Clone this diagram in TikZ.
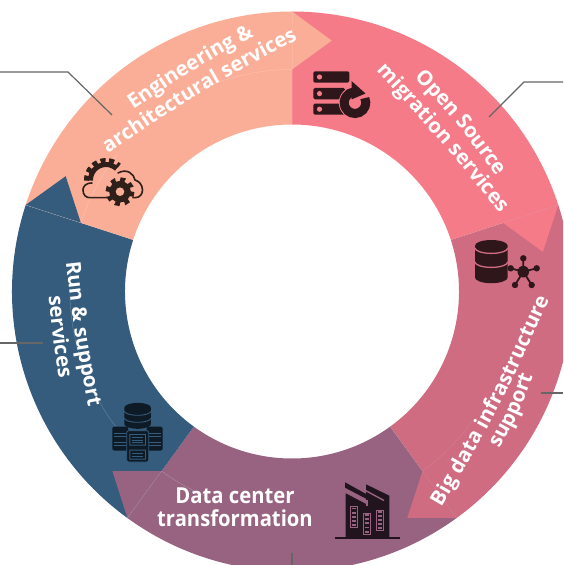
\documentclass[tikz,border=0pt]{standalone}
\usepackage{fontspec}
\usetikzlibrary{calc,decorations.text}
\newfontfamily\labfam{Open Sans}[FakeStretch=0.92]
\newfontfamily\ringfam{Open Sans}
\newcommand{\ringfont}{\color{white}\ringfam\bfseries\fontsize{20.5}{24}\selectfont}
\definecolor{cSalmon}{HTML}{FBAE97}
\definecolor{cPink}{HTML}{F47B87}
\definecolor{cRose}{HTML}{CF6C82}
\definecolor{cPurple}{HTML}{986380}
\definecolor{cBlue}{HTML}{355C7D}
\definecolor{cLeader}{HTML}{666666}
\definecolor{iconA}{HTML}{2E1F1A}
\definecolor{iconB}{HTML}{2E161B}
\definecolor{iconC}{HTML}{0E1A25}
\definecolor{iconD}{HTML}{21141F}
\tikzset{
  px/.style={shift={(-292,291.5)},yscale=-1},
  leader/.style={draw=cLeader,line width=1.2pt},
  seam/.style={draw=white,draw opacity=.11,line width=.4pt},
  biglabel/.style={text=white,font=\labfam\bfseries\fontsize{22}{23}\selectfont,align=center,inner sep=0pt}
}
\newcommand{\segment}[2]{%
  \fill[#2] (#1:280) arc[start angle=#1,delta angle=-72,radius=280]
    -- ({#1-72}:167) arc[start angle={#1-72},delta angle=72,radius=167] -- cycle;}
\newcommand{\head}[2]{%
  \fill[#2] (#1:280) -- ({#1-9}:254) -- (#1:222) -- cycle;}
\newcommand{\arctext}[4]{%
  \path[decorate,decoration={text along path,text align=center,text={|\ringfont|#4}}]
    ($(#1)!-0.15!(#3)$) .. controls ($1.3333*(#2)-0.1667*(#1)-0.1667*(#3)$) .. ($(#3)!-0.15!(#1)$);}
\begin{document}
\begin{tikzpicture}[x=1pt,y=1pt]
\useasboundingbox (-292,-273.5) rectangle (271,291.5);
\clip (-292,-273.5) rectangle (271,291.5);
% ring
\segment{90}{cPink}
\segment{18}{cRose}
\segment{-54}{cPurple}
\segment{-126}{cBlue}
\segment{162}{cSalmon}
\head{90}{cSalmon}
\head{18}{cPink}
\head{-54}{cRose}
\head{-126}{cPurple}
\head{162}{cBlue}
% faint seams
\foreach \a in {162,-126} {\draw[seam,draw opacity=.25] (\a:280) -- (\a:222);}
\foreach \a in {18,-54,90} {\draw[seam] (\a:280) -- (\a:167);}
\draw[seam,draw opacity=.25] (172:222) arc[start angle=172,delta angle=54,radius=222];
\draw[seam,draw opacity=.25] (90:222) arc[start angle=90,delta angle=25,radius=222];
\draw[seam,draw opacity=.25] (142:222) arc[start angle=142,delta angle=20,radius=222];
\draw[seam,draw opacity=.25] (-126:222) arc[start angle=-126,delta angle=14,radius=222];
\draw[seam] (-54:222) arc[start angle=-54,delta angle=18,radius=222];
\begin{scope}[px]
% leader ends
\coordinate (l1a) at (0,72);   \coordinate (l1b) at (68,72);  \coordinate (l1c) at (112,115);
\coordinate (l2a) at (563,82); \coordinate (l2b) at (524,82); \coordinate (l2c) at (489,117);
\coordinate (l3a) at (0,343);  \coordinate (l3b) at (43,343);
\coordinate (l4a) at (563,393);\coordinate (l4b) at (541,393);
\coordinate (l5a) at (292,565);\coordinate (l5b) at (292,553);
% text baselines
\coordinate (e1a) at (132,112); \coordinate (e1m) at (197,68);  \coordinate (e1b) at (257,36);
\coordinate (e2a) at (111,153); \coordinate (e2m) at (201,93);  \coordinate (e2b) at (296,42);
\coordinate (o1a) at (417,82);  \coordinate (o1m) at (456,123); \coordinate (o1b) at (493,173);
\coordinate (o2a) at (378,74);  \coordinate (o2m) at (439,140); \coordinate (o2b) at (497,211);
\coordinate (r1a) at (67,263);  \coordinate (r1m) at (75,334);  \coordinate (r1b) at (89,406);
\coordinate (r2a) at (49,298);  \coordinate (r2m) at (53,338);  \coordinate (r2b) at (59,377);
\coordinate (b1a) at (443,501); \coordinate (b1m) at (499,406); \coordinate (b1b) at (545,304);
\coordinate (b2a) at (500,446); \coordinate (b2m) at (518,414); \coordinate (b2b) at (531,378);
\coordinate (dc) at (235,507);

% ---- cloud & gears
\begin{scope}[iconA]
\draw[line width=1.6pt,line cap=round] (92,183) .. controls (85,183) and (83,187) .. (83,190)
   .. controls (83,195) and (86,197.7) .. (90,197.7) -- (107,197.7);
\draw[line width=1.6pt,line cap=round] (133,197.7) -- (135,197.7) .. controls (140,197.7) and (142.5,194) .. (142.5,190)
   .. controls (142.5,185) and (139,181) .. (135,180) .. controls (134,174) and (127,168) .. (118,173);
\draw[line width=5pt] (106,180)+(178:15.5) arc[start angle=178,delta angle=135,radius=15.5];
\draw[line width=5pt,dash pattern=on 5pt off 3.6pt] (106,180)+(178:19.5) arc[start angle=178,delta angle=135,radius=19.5];
\fill (120,191.7) circle (10.8);
\draw[line width=4pt,dash pattern=on 4.9pt off 4.9pt] (120,191.7) circle (12.5);
\end{scope}
\fill[cSalmon] (120,191.7) circle (4.3);

% ---- servers & refresh
\begin{scope}[iconB]
\fill[rounded corners=1.5pt] (313.3,71.3) rectangle (349.3,82.7);
\fill[rounded corners=1.5pt] (313.3,88) rectangle (345,99.3);
\fill[rounded corners=1.5pt] (313.3,103.7) rectangle (345,114.7);
\end{scope}
\fill[cPink] (319.5,77) circle (2.6) (319.5,93.6) circle (2.6) (319.5,109.2) circle (2.6);
\fill[cPink] (355,102.7) circle (16.2);
\draw[iconB,line width=9pt] (355,102.7)+(-25:10.8) arc[start angle=-25,end angle=262,radius=10.8];
\fill[iconB] (351.5,81) -- (365.5,93.5) -- (351.5,99.5) -- cycle;

% ---- database & network
\fill[iconB] (475,245.7) arc[start angle=180,end angle=360,x radius=16.35,y radius=5.7]
   -- (507.7,277.5) arc[start angle=0,end angle=180,x radius=16.35,y radius=5.7] -- cycle;
\draw[cRose,line width=1.3pt] (475,248) arc[start angle=180,end angle=0,x radius=16.35,y radius=5.4];
\draw[cRose,line width=1.3pt] (475,262) arc[start angle=180,end angle=0,x radius=16.35,y radius=5.4];
\begin{scope}[iconB]
\draw[line width=1.8pt] (523.3,271.7) -- (510.7,268.3) (523.3,271.7) -- (523.3,258.3)
   (523.3,271.7) -- (536.7,268.3) (523.3,271.7) -- (515,285) (523.3,271.7) -- (531.7,285);
\fill (523.3,271.7) circle (5.8) (510.7,268.3) circle (3.2) (523.3,258.3) circle (3.2)
   (536.7,268.3) circle (3.2) (515,285) circle (3.2) (531.7,285) circle (3.2);
\end{scope}

% ---- database over servers
\fill[iconC] (124.3,407.7) arc[start angle=180,end angle=360,x radius=13.35,y radius=4.8]
   -- (151,424) arc[start angle=0,end angle=180,x radius=13.35,y radius=4.8] -- cycle;
\draw[cBlue,line width=.9pt] (124.3,411) arc[start angle=180,end angle=0,x radius=13.35,y radius=4.3];
\draw[cBlue,line width=.9pt] (124.3,418) arc[start angle=180,end angle=0,x radius=13.35,y radius=4.3];
\fill[iconC,rounded corners=2pt] (112.3,426.7) rectangle (128.3,450.5);
\fill[iconC,rounded corners=2pt] (146.7,426.7) rectangle (162.7,450.5);
\foreach \yy in {433,436,442,445} {\draw[cBlue,line width=.5pt] (114,\yy) -- (126,\yy) (149,\yy) -- (161,\yy);}
\draw[cBlue,line width=.8pt,fill=iconC,rounded corners=2pt] (126.7,430.7) rectangle (148.7,462);
\fill[cBlue] (129.5,434) rectangle (146,445.5) (129.5,449.5) rectangle (146,459.5);
\fill[iconC] (130.5,435) rectangle (145,444.5) (130.5,450.5) rectangle (145,458.5);
\foreach \yy in {437.5,440,442.5,453,456} {\draw[cBlue,line width=.5pt] (132,\yy) -- (143.5,\yy);}

% ---- factory
\begin{scope}[iconD]
\fill (345,482.3) -- (366.7,494.3) -- (366.7,499) -- (345,487.7) -- cycle;
\fill (345.7,493.3) -- (366.7,504.3) -- (366.7,537) -- (345.7,537) -- cycle;
\fill (366,484.3) -- (389.3,495.7) -- (389.3,537) -- (366,537) -- cycle;
\fill (335,536.5) rectangle (400,539);
\end{scope}
\draw[cPurple,line width=1.4pt] (365.5,490.5) -- (384,500.5);
\draw[cPurple,line width=1.4pt] (367,500.3) -- (367,505.5);
\foreach \xa/\xb/\ya/\yb in {350.7/357.3/506.7/527.7,363.3/370.7/513/534,376.7/383.3/510/530} {
  \draw[cPurple,line width=.7pt,fill=iconD] (\xa,\ya) rectangle (\xb,\yb);
  \foreach \k in {1,...,5} {
    \fill[cPurple] (\xa+1.2,{\ya+(\yb-\ya)*(\k-0.55)/5-0.9}) rectangle (\xb-1.8,{\ya+(\yb-\ya)*(\k-0.55)/5+0.9});
  }
}
\end{scope}
% leaders
\draw[leader] (l1a) -- (l1b) -- (l1c);
\draw[leader] (l2a) -- (l2b) -- (l2c);
\draw[leader] (l3a) -- (l3b);
\draw[leader] (l4a) -- (l4b);
\draw[leader] (l5a) -- (l5b);
% labels
\arctext{e1a}{e1m}{e1b}{Engineering {\&}}
\arctext{e2a}{e2m}{e2b}{architectural services}
\arctext{o1a}{o1m}{o1b}{Open Source}
\arctext{o2a}{o2m}{o2b}{migration services}
\arctext{r1a}{r1m}{r1b}{Run {\&} support}
\arctext{r2a}{r2m}{r2b}{services}
\arctext{b1a}{b1m}{b1b}{Big data infrastructure}
\arctext{b2a}{b2m}{b2b}{support}
\node[biglabel] (dctext) at (dc) {Data center\\transformation};
\end{tikzpicture}
\end{document}
